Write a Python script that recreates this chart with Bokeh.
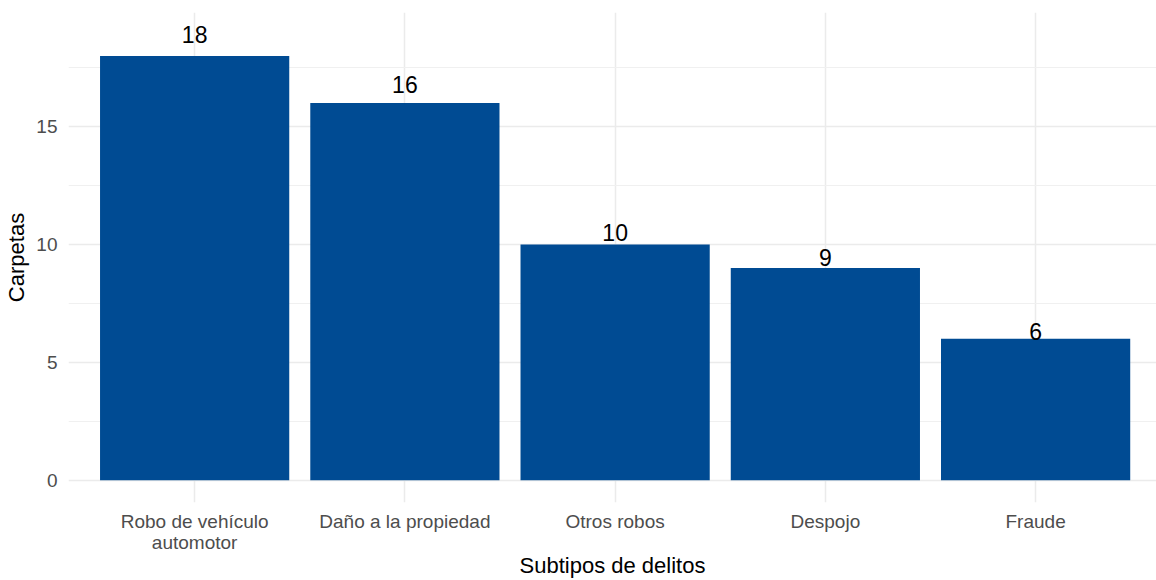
from bokeh.plotting import figure
from bokeh.models import ColumnDataSource, FixedTicker, Range1d
from bokeh.core.properties import value
from bokeh.embed import file_html
from bokeh.resources import INLINE

categories = ["Robo de vehículo\nautomotor", "Daño a la propiedad", "Otros robos", "Despojo", "Fraude"]
counts = [18, 16, 10, 9, 6]
y_ticks = [0, 5, 10, 15]
y_minor = [2.5, 7.5, 12.5, 17.5]

xs = list(range(1, len(categories) + 1))
label_y = [c * 1.05 for c in counts]
ymax = max(label_y)
pad = 0.05 * ymax

src = ColumnDataSource(dict(x=xs, top=counts, ly=label_y, txt=[str(c) for c in counts]))

FONT = "Liberation Sans"
p = figure(width=1156, height=580, output_backend="svg", toolbar_location=None,
           x_range=Range1d(0.4, 5.575), y_range=Range1d(-pad, ymax + pad),
           min_border_left=68, min_border_right=0, min_border_top=12, min_border_bottom=60)
p.outline_line_color = None
p.background_fill_color = "white"
p.border_fill_color = "white"

p.vbar(x="x", top="top", bottom=0, width=0.9, source=src, fill_color="#004B93", line_color=None)
p.text(x="x", y="ly", text="txt", source=src, text_align="center", text_baseline="middle",
       text_font=value(FONT), text_font_size="23px", text_color="black")

p.xaxis.ticker = FixedTicker(ticks=xs)
p.xaxis.major_label_overrides = {x: c for x, c in zip(xs, categories)}
p.yaxis.ticker = FixedTicker(ticks=y_ticks, minor_ticks=y_minor)

for ax in (p.xaxis, p.yaxis):
    ax.axis_line_color = None
    ax.major_tick_line_color = None
    ax.minor_tick_line_color = None
    ax.major_tick_out = 0
    ax.major_tick_in = 0
    ax.minor_tick_out = 0
    ax.minor_tick_in = 0
    ax.major_label_text_font = FONT
    ax.major_label_text_font_size = "19px"
    ax.major_label_text_color = "#4D4D4D"
    ax.axis_label_text_font = FONT
    ax.axis_label_text_font_size = "22px"
    ax.axis_label_text_font_style = "normal"
    ax.axis_label_text_color = "black"

p.xaxis.axis_label = "Subtipos de delitos"
p.yaxis.axis_label = "Carpetas"
p.xaxis.major_label_standoff = 8
p.xaxis.major_label_text_line_height = 1.0
p.xaxis.axis_label_standoff = -3
p.yaxis.major_label_standoff = 11
p.yaxis.axis_label_standoff = 4

p.xgrid.grid_line_color = "#EBEBEB"
p.xgrid.grid_line_width = 1.5
p.ygrid.grid_line_color = "#EBEBEB"
p.ygrid.grid_line_width = 1.5
p.ygrid.minor_grid_line_color = "#F0F0F0"
p.ygrid.minor_grid_line_width = 1.2

open("out.html", "w").write(file_html(p, INLINE))
